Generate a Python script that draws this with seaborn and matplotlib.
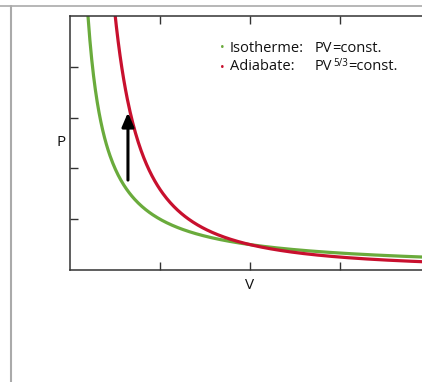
import numpy as np
import pandas as pd
import matplotlib
matplotlib.use("Agg")
import matplotlib.pyplot as plt
import seaborn as sns
from matplotlib.lines import Line2D

sns.set_theme(style="white")
plt.rcParams['font.family'] = ['Open Sans', 'DejaVu Sans']

# Data
V_range = [0.15, 4.2]    # sampled domain of the curves
iso_const = 1.0          # PV = const
adi_const = 1.587        # PV^(5/3) = const
adi_exponent = 5 / 3
series_names = ["Isotherme", "Adiabate"]
legend_formulas = [("PV", "", "=const."), ("PV", "5/3", "=const.")]
colors = ["#6aab3c", "#c8102e"]
arrow_V = 0.644
arrow_P = [1.77, 3.1]
x_ticks = [1, 2, 3, 4]
y_ticks = [1, 2, 3, 4]

V = np.linspace(V_range[0], V_range[1], 400)
df = pd.DataFrame({
    "V": np.concatenate([V, V]),
    "P": np.concatenate([iso_const / V, adi_const / V ** adi_exponent]),
    "kind": [series_names[0]] * len(V) + [series_names[1]] * len(V),
})

W, H = 422, 382
fig = plt.figure(figsize=(W / 100, H / 100), dpi=100)
ax = fig.add_axes([70 / W, 1 - 270 / H, 360 / W, 254 / H])

sns.lineplot(data=df, x="V", y="P", hue="kind", palette=colors,
             hue_order=series_names, linewidth=2.3, legend=False, ax=ax, sort=False)

ax.set_xlim(0, 4)
ax.set_ylim(0, 5)
ax.set_xticks(x_ticks)
ax.set_yticks(y_ticks)
ax.set_xticklabels([])
ax.set_yticklabels([])
ax.tick_params(direction="in", length=6, width=1.0, color="#333333",
               top=True, right=True, bottom=True, left=True)
for s in ax.spines.values():
    s.set_color("#333333")
    s.set_linewidth(1.1)

ax.set_xlabel("V", fontsize=11, color="#111111", labelpad=2)
ax.set_ylabel("P", fontsize=11, color="#111111", rotation=0, labelpad=3, va="center")

ax.annotate("", xy=(arrow_V, arrow_P[1]), xytext=(arrow_V, arrow_P[0]),
            arrowprops=dict(arrowstyle="-|>,head_length=0.7,head_width=0.3",
                            color="black", lw=2.2, shrinkA=0, shrinkB=0))

# legend as text
renderer = fig.canvas.get_renderer()
fs = 10.5
ys = [48, 67]
for i in range(2):
    yf = 1 - ys[i] / H
    fig.text(222 / W, yf, "•", color=colors[i], fontsize=9, ha="center", va="center")
    fig.text(230 / W, yf, series_names[i] + ":", fontsize=fs, color="#111111", va="center")
    base, sup, rest = legend_formulas[i]
    t = fig.text(315 / W, yf, base, fontsize=fs, color="#111111", va="center")
    x1 = t.get_window_extent(renderer).x1
    if sup:
        ts = fig.text((x1 + 0.5) / W, yf + 3 / H, sup, fontsize=7, color="#111111", va="center")
        x1 = ts.get_window_extent(renderer).x1
    fig.text(x1 / W, yf, rest, fontsize=fs, color="#111111", va="center")

# page frame
fig.add_artist(Line2D([0, 1], [1 - 6 / H, 1 - 6 / H], color="#aaaaaa", lw=1.2,
                      transform=fig.transFigure))
fig.add_artist(Line2D([11 / W, 11 / W], [0, 1 - 6 / H], color="#aaaaaa", lw=1.5,
                      transform=fig.transFigure))

fig.savefig("out.png", dpi=100)
